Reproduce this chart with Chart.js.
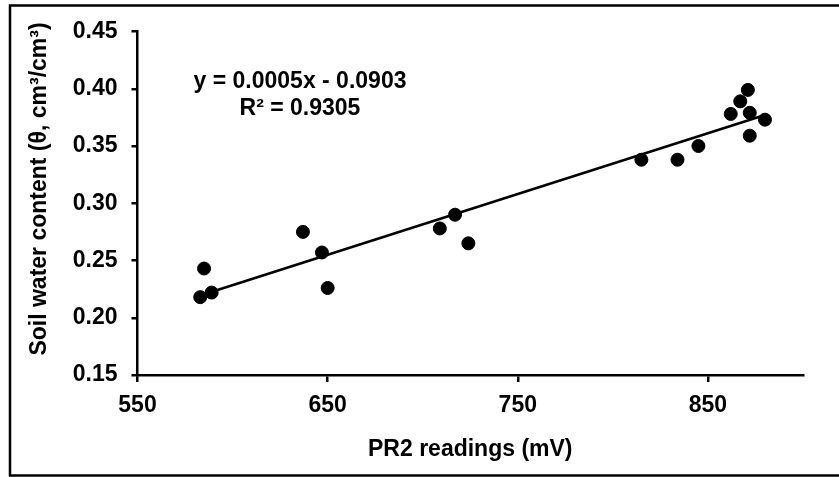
<!DOCTYPE html>
<html>
<head>
<meta charset="utf-8">
<script src="https://cdn.jsdelivr.net/npm/chart.js@4.4.1/dist/chart.umd.min.js"></script>
<style>
  html, body { margin: 0; padding: 0; background: #fff; }
  #wrap { width: 839px; height: 477px; }
</style>
</head>
<body>
<div id="wrap"><canvas id="soilChart" width="839" height="477"></canvas></div>
<script>
// PR2 readings (mV) and soil water content
const pr2Readings = [583, 585, 589, 637, 647, 650, 709, 717, 724, 815, 834, 845, 862, 867, 871, 872, 880, 872];
const waterContent = [0.218, 0.243, 0.222, 0.275, 0.257, 0.226, 0.278, 0.290, 0.265, 0.338, 0.338, 0.350, 0.378, 0.389, 0.399, 0.379, 0.373, 0.359];

const xTicks = [550, 650, 750, 850];
const yTicks = [0.15, 0.20, 0.25, 0.30, 0.35, 0.40, 0.45];
const equationLines = ['y = 0.0005x - 0.0903', 'R\u00b2 = 0.9305'];
const yTitle = 'Soil water content (\u03b8, cm\u00b3/cm\u00b3)';

const FONT = "'Liberation Sans', Arial, sans-serif";

// least squares trendline over the data range
const n = pr2Readings.length;
const meanX = pr2Readings.reduce((a, b) => a + b, 0) / n;
const meanY = waterContent.reduce((a, b) => a + b, 0) / n;
let sxy = 0, sxx = 0;
pr2Readings.forEach((x, i) => {
    sxy += (x - meanX) * (waterContent[i] - meanY);
    sxx += (x - meanX) * (x - meanX);
});
const slope = sxy / sxx;
const intercept = meanY - slope * meanX;
const xMin = Math.min(...pr2Readings);
const xMax = Math.max(...pr2Readings);

// outer frame, y title and trendline equation
const decorations = {
    id: 'decorations',
    afterDraw(chart) {
        const ctx = chart.ctx;
        ctx.save();
        ctx.strokeStyle = '#000';
        ctx.lineWidth = 2.5;
        ctx.strokeRect(10, 5.5, 850, 470);
        ctx.fillStyle = '#000';
        ctx.font = 'bold 23px ' + FONT;
        ctx.textAlign = 'center';
        ctx.textBaseline = 'alphabetic';
        ctx.fillText(equationLines[0], 300, 88);
        ctx.fillText(equationLines[1], 300, 115);
        // rotated y axis title
        ctx.translate(40, 189);
        ctx.rotate(-Math.PI / 2);
        ctx.textBaseline = 'middle';
        ctx.fillText(yTitle, 0, 0);
        ctx.restore();
    }
};

const ctx = document.getElementById('soilChart').getContext('2d');
new Chart(ctx, {
    type: 'scatter',
    data: {
        datasets: [{
            label: 'Measured',
            data: pr2Readings.map((x, i) => ({ x: x, y: waterContent[i] })),
            backgroundColor: '#000',
            borderColor: '#000',
            pointRadius: 6.5,
            order: 0
        }, {
            label: 'Linear fit',
            type: 'line',
            data: [
                { x: xMin, y: slope * xMin + intercept },
                { x: xMax, y: slope * xMax + intercept }
            ],
            borderColor: '#000',
            borderWidth: 2.5,
            pointRadius: 0,
            fill: false,
            order: 1
        }]
    },
    options: {
        responsive: false,
        animation: false,
        layout: { padding: { left: 10, right: 36, top: 31.5, bottom: 10 } },
        plugins: {
            legend: { display: false },
            tooltip: { enabled: false }
        },
        scales: {
            x: {
                type: 'linear',
                min: 550,
                max: 900,
                afterBuildTicks: axis => { axis.ticks = xTicks.map(v => ({ value: v })); },
                afterFit: axis => { axis.height = 477 - 10 - 375; },
                border: { color: '#000', width: 2.5 },
                grid: { drawOnChartArea: false, color: '#000', lineWidth: 2.5, tickLength: 7 },
                ticks: {
                    color: '#000',
                    padding: 10,
                    maxRotation: 0,
                    font: { family: FONT, size: 23, weight: 'bold' }
                },
                title: {
                    display: true,
                    text: 'PR2 readings (mV)',
                    color: '#000',
                    padding: { top: 8 },
                    font: { family: FONT, size: 23, weight: 'bold' }
                }
            },
            y: {
                min: 0.15,
                max: 0.45,
                afterBuildTicks: axis => { axis.ticks = yTicks.map(v => ({ value: v })); },
                afterFit: axis => { axis.width = 137.5 - 10; },
                border: { color: '#000', width: 2.5 },
                grid: { drawOnChartArea: false, color: '#000', lineWidth: 2.5, tickLength: 6 },
                ticks: {
                    color: '#000',
                    padding: 14,
                    callback: v => v.toFixed(2),
                    font: { family: FONT, size: 23, weight: 'bold' }
                }
            }
        }
    },
    plugins: [decorations]
});
</script>
</body>
</html>
